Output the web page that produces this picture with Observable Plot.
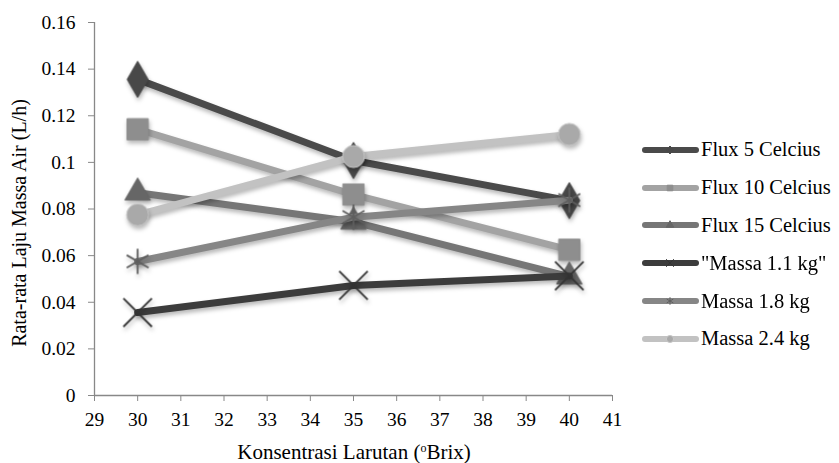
<!DOCTYPE html>
<html><head><meta charset="utf-8">
<script src="https://cdn.jsdelivr.net/npm/d3@7"></script>
<script src="https://cdn.jsdelivr.net/npm/@observablehq/plot@0.6"></script>
<style>
html,body{margin:0;padding:0;background:#fff;}
#wrap{position:relative;width:839px;height:463px;font-family:"Liberation Serif","Times New Roman",serif;color:#000;}
#chart svg, #chart svg text{font-family:"Liberation Serif","Times New Roman",serif !important;font-size:19.5px !important;}
#ylab{position:absolute;left:19px;top:223px;transform:translate(-50%,-50%) rotate(-90deg);white-space:nowrap;font-size:20px;}
#xlab{position:absolute;left:354px;top:452px;transform:translate(-50%,-50%);white-space:nowrap;font-size:21px;}
#xlab sup{font-size:12px;vertical-align:7px;}
#legend{position:absolute;left:640px;top:131px;font-size:20.5px;}
.li{display:flex;align-items:center;height:37.8px;}
.li svg{margin-right:1px;}
.shadow{filter:drop-shadow(1px 3px 2px rgba(0,0,0,0.28));}
</style></head>
<body><div id="wrap"><div id="chart"></div>
<div id="ylab">Rata-rata Laju Massa Air (L/h)</div>
<div id="xlab">Konsentrasi Larutan (<sup>o</sup>Brix)</div>
<div id="legend"></div></div>
<script>
const brix = [30, 35, 40];
const seriesNames = ["Flux 5 Celcius", "Flux 10 Celcius", "Flux 15 Celcius", "\"Massa 1.1 kg\"", "Massa 1.8 kg", "Massa 2.4 kg"];
const flux5 = [0.1356, 0.1008, 0.0836];
const flux10 = [0.1142, 0.0862, 0.0625];
const flux15 = [0.0870, 0.0745, 0.0510];
const massa11 = [0.0356, 0.0472, 0.0513];
const massa18 = [0.0575, 0.0765, 0.0838];
const massa24 = [0.0775, 0.1025, 0.1120];
const xTicks = [29,30,31,32,33,34,35,36,37,38,39,40,41];
const yTicks = [0,0.02,0.04,0.06,0.08,0.1,0.12,0.14,0.16];

const values = [flux5, flux10, flux15, massa11, massa18, massa24];
const lineColors = ["#4a4a4a", "#a3a3a3", "#767676", "#3c3c3c", "#868686", "#c2c2c2"];
const markFill = ["#484848", "#8e8e8e", "#666666", "none", "none", "#a9a9a9"];
const markStroke = ["#484848", "#8e8e8e", "#666666", "#333333", "#5e5e5e", "#c8c8c8"];
const symbols = ["diamond", "square", "triangle", "times", "asterisk", "circle"];
const rs = [11, 12, 9.5, 13, 12, 11];

const rows = [];
seriesNames.forEach((s, i) => brix.forEach((b, j) => rows.push({s, i, x: b, y: values[i][j]})));

const marks = [
  Plot.ruleX([29], {stroke: "#888", strokeWidth: 1.3}),
  Plot.ruleY([0], {stroke: "#888", strokeWidth: 1.3}),
];
seriesNames.forEach((s, i) => {
  const d = rows.filter(r => r.i === i);
  marks.push(Plot.line(d, {x: "x", y: "y", stroke: lineColors[i], strokeWidth: 7, strokeLinecap: "round", className: "shadow"}));
  const thin = symbols[i] === "times" || symbols[i] === "asterisk";
  marks.push(Plot.dot(d, {x: "x", y: "y", symbol: () => symbols[i], r: rs[i],
    fill: markFill[i], stroke: markStroke[i], strokeWidth: thin ? 1.8 : 1, className: "shadow"}));
});

const chart = Plot.plot({
  width: 839, height: 463,
  marginLeft: 94, marginRight: 227, marginTop: 22, marginBottom: 68,
  style: {background: "#fff", color: "#000"},
  x: {domain: [29, 41], label: null},
  y: {domain: [0, 0.16], label: null},
  symbol: {type: "identity"},
  marks: [
    Plot.axisX({ticks: xTicks, tickFormat: d => String(d), tickSize: 6, tickPadding: 11, stroke: "#888", fill: "#000", label: null}),
    Plot.axisY({ticks: yTicks, tickFormat: d => String(+d.toFixed(2)), tickSize: 6, tickPadding: 13, stroke: "#888", fill: "#000", label: null}),
    ...marks
  ]
});
document.getElementById("chart").appendChild(chart);

// legend
const leg = d3.select("#legend");
seriesNames.forEach((s, i) => {
  const li = leg.append("div").attr("class", "li");
  const svg = li.append("svg").attr("width", 60).attr("height", 14);
  svg.append("line").attr("x1", 5).attr("x2", 56).attr("y1", 7).attr("y2", 7)
    .attr("stroke", lineColors[i]).attr("stroke-width", 6).attr("stroke-linecap", "round");
  const sym = d3.symbol().type({
    diamond: d3.symbolDiamond2, square: d3.symbolSquare2, triangle: d3.symbolTriangle2,
    times: d3.symbolTimes, asterisk: d3.symbolAsterisk, circle: d3.symbolCircle}[symbols[i]]).size(40);
  svg.append("path").attr("d", sym()).attr("transform", "translate(30,7)")
    .attr("fill", markFill[i]).attr("stroke", markStroke[i]).attr("stroke-width", 1);
  li.append("span").text(s);
});
</script>
</body></html>
